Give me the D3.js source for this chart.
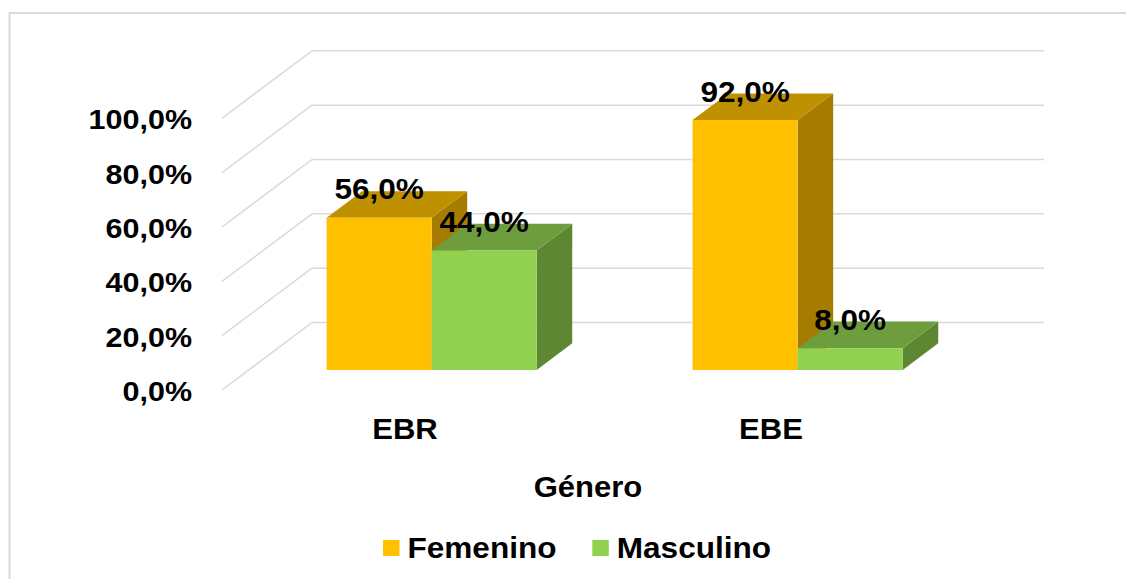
<!DOCTYPE html>
<html>
<head>
<meta charset="utf-8">
<script src="https://cdn.jsdelivr.net/npm/d3@7"></script>
<style>
  html, body { margin: 0; padding: 0; background: #fff; }
  svg { display: block; }
  text { font-family: "Liberation Sans", Arial, sans-serif; font-weight: bold; fill: #000; }
</style>
</head>
<body>
<svg id="chart" width="1126" height="579"></svg>
<script>
// ---- data ----
const categories = ["EBR", "EBE"];
const seriesNames = ["Femenino", "Masculino"];
const femenino = [0.56, 0.92];
const masculino = [0.44, 0.08];
const yTicks = [0, 0.2, 0.4, 0.6, 0.8, 1.0];
const xTitle = "Género";

const colors = {
  Femenino: { front: "#FFC000", top: "#BF9000", side: "#A67C00" },
  Masculino: { front: "#92D050", top: "#6E9D3D", side: "#5E8733" }
};

const svg = d3.select("#chart");
const fmt = v => d3.format(".1f")(v * 100).replace(".", ",") + "%";
const SX = 1.07; // horizontal stretch of text, as in the reference
const place = (sel, fx, fy) => sel.attr("transform", (d, i) => `translate(${fx(d, i)},${fy(d, i)}) scale(${SX},1)`);

// frame
svg.append("rect").attr("x", 9.5).attr("y", 13).attr("width", 1130).attr("height", 580)
  .attr("fill", "none").attr("stroke", "#D9D9D9").attr("stroke-width", 2);

// ---- 3D geometry ----
const depth = { dx: 90, dy: -67.5 };
const x = d3.scaleBand().domain(categories).range([222, 954]).paddingInner(0).paddingOuter(0);
const y = d3.scaleLinear().domain([0, 1]).range([390, 118.3]);
const groupFrac = 0.574;
const xs = d3.scaleBand().domain(seriesNames)
  .range([x.bandwidth() * (1 - groupFrac) / 2, x.bandwidth() * (1 + groupFrac) / 2]);
const z0 = 0.296, z1 = 0.691;
const P = (px, py, z) => [px + depth.dx * z, py + depth.dy * z];

const g = svg.append("g");
// back wall gridlines
g.selectAll("line.back").data(yTicks).join("line")
  .attr("x1", x.range()[0] + depth.dx).attr("x2", x.range()[1] + depth.dx)
  .attr("y1", d => y(d) + depth.dy).attr("y2", d => y(d) + depth.dy)
  .attr("stroke", "#D9D9D9").attr("stroke-width", 1.5);
// side wall diagonals
g.selectAll("line.side").data(yTicks).join("line")
  .attr("x1", x.range()[0]).attr("y1", d => y(d))
  .attr("x2", x.range()[0] + depth.dx).attr("y2", d => y(d) + depth.dy)
  .attr("stroke", "#D9D9D9").attr("stroke-width", 1.5);

// y axis labels
svg.selectAll("text.ytick").data(yTicks).join("text")
  .attr("text-anchor", "end").attr("font-size", 28.5)
  .call(place, () => 192, d => y(d) + 11)
  .text(fmt);

// bars
const bars = [];
categories.forEach((c, i) => {
  [femenino[i], masculino[i]].forEach((v, j) => {
    const s = seriesNames[j];
    bars.push({ c, s, v, x0: x(c) + xs(s), x1: x(c) + xs(s) + xs.bandwidth() });
  });
});
const poly = pts => pts.map(p => p.join(",")).join(" ");
bars.forEach(b => {
  const col = colors[b.s];
  const yb = y(0), yt = y(b.v);
  const bg = g.append("g");
  bg.append("polygon").attr("fill", col.side).attr("points", poly([
    P(b.x1, yb, z0), P(b.x1, yb, z1), P(b.x1, yt, z1), P(b.x1, yt, z0)]));
  bg.append("polygon").attr("fill", col.top).attr("points", poly([
    P(b.x0, yt, z0), P(b.x1, yt, z0), P(b.x1, yt, z1), P(b.x0, yt, z1)]));
  bg.append("polygon").attr("fill", col.front).attr("points", poly([
    P(b.x0, yb, z0), P(b.x1, yb, z0), P(b.x1, yt, z0), P(b.x0, yt, z0)]));
});

// data labels
svg.selectAll("text.dl").data(bars).join("text")
  .attr("text-anchor", "middle").attr("font-size", 29.5)
  .call(place, d => (d.x0 + d.x1) / 2 + depth.dx * z0, d => y(d.v) + depth.dy * z0 - 18.5)
  .text(d => fmt(d.v));

// category labels
svg.selectAll("text.cat").data(categories).join("text")
  .attr("text-anchor", "middle").attr("font-size", 29)
  .call(place, d => x(d) + x.bandwidth() / 2, () => 439)
  .text(d => d);

// axis title
svg.append("text").datum(xTitle).attr("text-anchor", "middle").attr("font-size", 29)
  .call(place, () => 588, () => 497).text(d => d);

// legend
const legendX = [383, 592.3];
const lg = svg.selectAll("g.leg").data(seriesNames).join("g")
  .attr("transform", (d, i) => `translate(${legendX[i]},540)`);
lg.append("rect").attr("width", 16.5).attr("height", 16).attr("fill", d => colors[d].front);
lg.append("text").attr("font-size", 29.5)
  .call(place, () => 24.5, () => 17.5).text(d => d);
</script>
</body>
</html>
